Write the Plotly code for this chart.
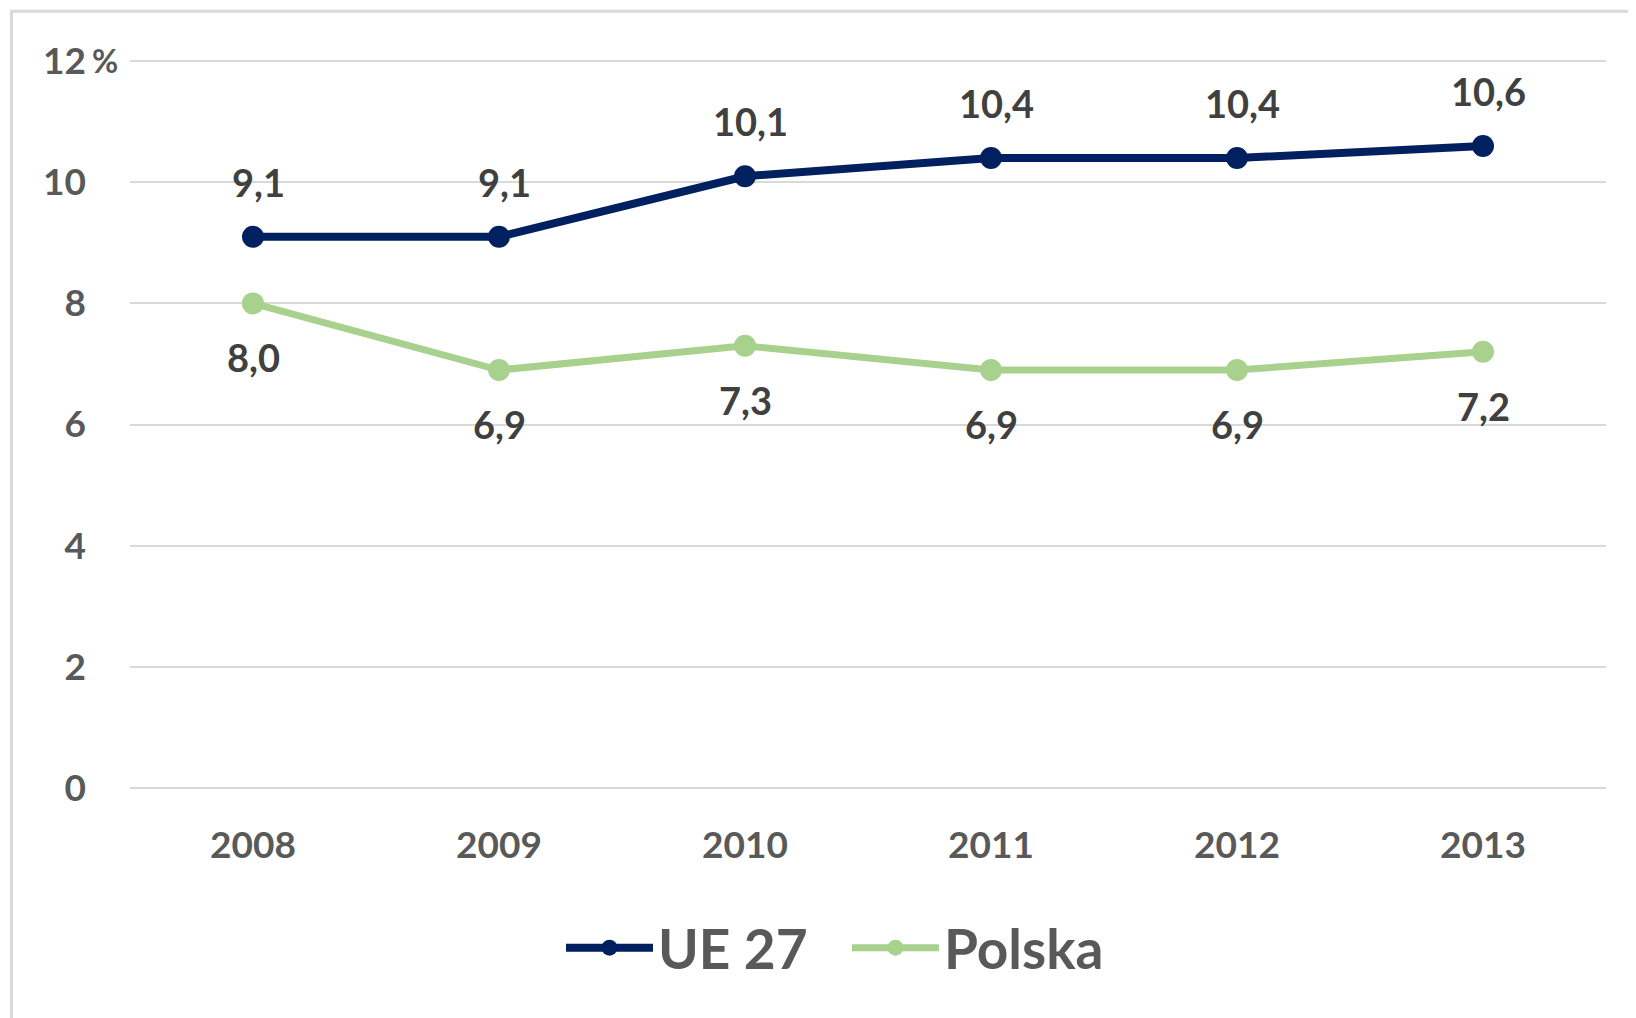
import plotly.graph_objects as go

years = ["2008", "2009", "2010", "2011", "2012", "2013"]
ue27 = [9.1, 9.1, 10.1, 10.4, 10.4, 10.6]
polska = [8.0, 6.9, 7.3, 6.9, 6.9, 7.2]
ue_labels = ["9,1", "9,1", "10,1", "10,4", "10,4", "10,6"]
pl_labels = ["8,0", "6,9", "7,3", "6,9", "6,9", "7,2"]
y_ticks = [0, 2, 4, 6, 8, 10, 12]
y_ticktext = ["0", "2", "4", "6", "8", "10", "12"]

FONT = "Lato"
NAVY = "#002060"
GREEN = "#A9D18E"

fig = go.Figure()
fig.add_trace(go.Scatter(x=years, y=ue27, name="UE 27", mode="lines+markers",
                         line=dict(color=NAVY, width=8), marker=dict(size=22, color=NAVY)))
fig.add_trace(go.Scatter(x=years, y=polska, name="Polska", mode="lines+markers",
                         line=dict(color=GREEN, width=7), marker=dict(size=22, color=GREEN)))

annotations = []
for i, (y, t) in enumerate(zip(ue27, ue_labels)):
    annotations.append(dict(x=i, y=y, text=t, showarrow=False, yshift=55, xshift=5,
                            font=dict(family=FONT, size=38, color="#404040", weight="bold")))
for i, (y, t) in enumerate(zip(polska, pl_labels)):
    annotations.append(dict(x=i, y=y, text=t, showarrow=False, yshift=-54,
                            font=dict(family=FONT, size=38, color="#404040", weight="bold")))
annotations.append(dict(xref="paper", x=-0.017, y=12, text="%", showarrow=False, xanchor="center",
                        yshift=1, font=dict(family=FONT, size=32, color="#595959", weight="bold")))

shapes = [
    dict(type="line", xref="paper", yref="paper", x0=-0.0803, x1=-0.0803, y0=1.068, y1=-0.5,
         line=dict(color="#D9D9D9", width=3)),
    dict(type="line", xref="paper", yref="paper", x0=-0.0813, x1=1.1, y0=1.067, y1=1.067,
         line=dict(color="#D9D9D9", width=3)),
]

fig.update_layout(
    width=1636, height=1018,
    margin=dict(l=122, r=38, t=52, b=237),
    paper_bgcolor="white", plot_bgcolor="white",
    font=dict(family=FONT, color="#595959"),
    showlegend=True,
    legend=dict(orientation="h", x=0.292, y=-0.218, xanchor="left", yanchor="middle",
                font=dict(family=FONT, size=55, color="#595959", weight="bold"),
                itemwidth=87, entrywidth=184, entrywidthmode="pixels", tracegroupgap=0),
    annotations=annotations,
    shapes=shapes,
    xaxis=dict(type="category", range=[-0.5, 5.5], showgrid=False, showline=False, zeroline=False,
               ticks="", ticklabelstandoff=31,
               tickfont=dict(family=FONT, size=37, color="#595959", weight="bold")),
    yaxis=dict(range=[-0.02, 12.02], tickvals=y_ticks, ticktext=y_ticktext, showgrid=True,
               gridcolor="#D9D9D9", gridwidth=1.5, zeroline=False, showline=False, ticks="",
               ticklabelstandoff=43,
               tickfont=dict(family=FONT, size=37, color="#595959", weight="bold")),
)

fig.write_html("out.html")
